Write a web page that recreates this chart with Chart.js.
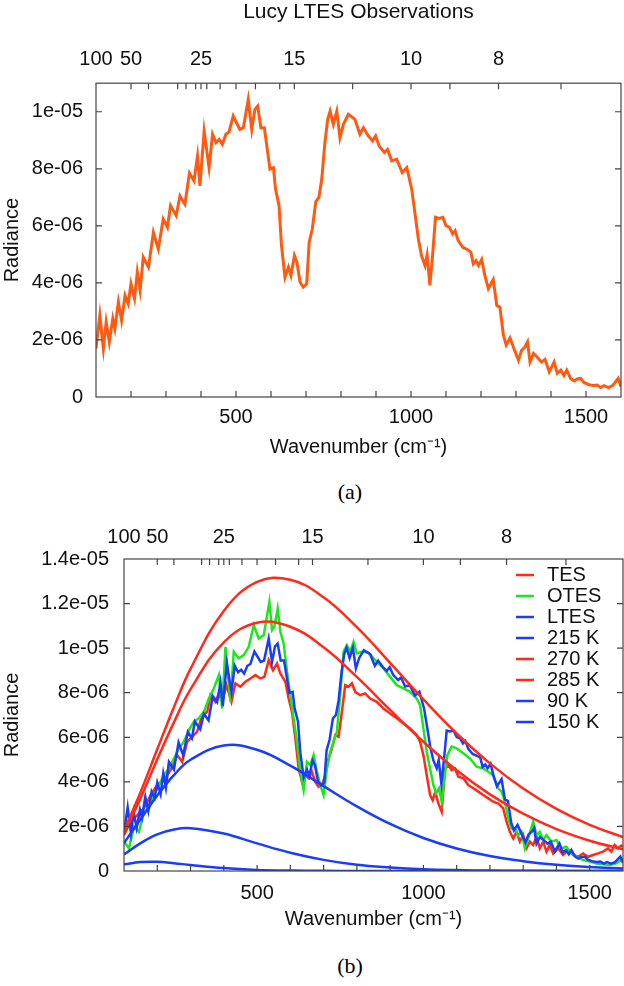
<!DOCTYPE html>
<html>
<head>
<meta charset="utf-8">
<script src="https://cdn.jsdelivr.net/npm/chart.js@4.4.1/dist/chart.umd.min.js"></script>
<style>
body { margin: 0; background: #fff; width: 624px; height: 986px; position: relative; overflow: hidden; }
canvas { position: absolute; left: 0; }
.caption { position: absolute; left: 300px; width: 100px; text-align: center;
  font-family: "Liberation Serif", "Times New Roman", serif; font-size: 22px; line-height: 26px; color: #000; }
</style>
</head>
<body>
<canvas id="chartA" width="624" height="470" style="top:0"></canvas>
<div class="caption" style="top:479px">(a)</div>
<canvas id="chartB" width="624" height="440" style="top:505px"></canvas>
<div class="caption" style="top:953px">(b)</div>
<script>
// Spectrum values are in units of 1e-6 radiance; wavenumbers in cm-1.

// LTES spectrum (panel a, also LTES in panel b)
var ltesWavenumber = [100,111,121,129,138,148,154,164,173,183,192,200,210,218,226,235,250,264,278,292,304,313,329,340,354,367,380,390,397,409,423,433,443,452,461,471,480,492,511,521,535,545,554,562,571,581,597,607,613,623,630,640,650,657,667,674,683,692,702,709,718,728,737,745,754,762,769,778,788,797,807,821,840,854,864,878,890,899,909,924,933,945,959,975,988,1002,1011,1021,1030,1040,1046,1054,1062,1070,1080,1091,1100,1110,1119,1126,1135,1148,1161,1171,1178,1186,1193,1202,1211,1221,1235,1245,1254,1264,1272,1283,1294,1307,1316,1326,1333,1340,1350,1364,1373,1383,1395,1409,1418,1428,1437,1445,1456,1466,1475,1485,1494,1507,1521,1532,1542,1552,1564,1576,1592,1600];
var ltesRadiance = [1.70,2.86,1.70,2.63,1.93,2.75,2.40,3.33,2.69,3.56,3.27,3.97,3.45,4.38,3.74,4.90,4.55,5.77,5.19,6.24,5.95,6.71,6.36,7.05,6.76,7.85,7.58,8.45,7.40,9.32,8.04,9.21,8.92,9.03,8.86,9.21,9.29,9.85,9.38,9.44,10.43,9.38,10.08,10.20,9.44,9.44,7.99,8.04,7.29,6.71,5.31,4.20,4.55,4.26,4.96,4.73,4.03,3.85,3.97,5.42,5.89,6.85,7.00,7.64,8.92,9.73,10.02,9.56,10.02,9.09,9.56,9.91,9.73,9.21,9.44,9.15,8.98,9.15,8.80,8.57,8.68,8.28,8.34,7.87,8.04,7.29,6.47,5.54,4.96,4.61,4.98,3.91,5.02,6.30,6.26,6.30,6.01,5.95,5.72,5.83,5.48,5.25,5.17,5.08,4.67,4.78,4.61,4.82,4.26,3.80,4.12,3.21,3.15,2.17,1.82,2.07,1.70,1.29,1.64,1.76,1.93,1.23,1.53,1.35,1.23,1.32,0.88,1.23,0.83,0.94,0.75,0.94,0.65,0.56,0.63,0.65,0.51,0.44,0.40,0.42,0.33,0.40,0.33,0.40,0.65,0.36];

// TES spectrum (panel b)
var tesWavenumber = [100,120,140,160,180,200,220,240,260,275,290,305,320,335,350,360,375,385,395,408,423,435,450,465,480,495,510,522,535,548,560,570,585,595,605,615,625,635,645,655,665,675,685,695,705,715,725,735,745,755,765,775,785,795,810,825,840,860,880,900,920,940,960,980,990,1000,1010,1020,1028,1036,1045,1055,1065,1075,1085,1095,1105,1120,1135,1150,1165,1180,1195,1210,1225,1240,1250,1260,1270,1280,1290,1300,1310,1320,1330,1340,1350,1360,1370,1380,1390,1405,1420,1435,1450,1465,1480,1495,1510,1525,1540,1555,1565,1575,1585,1595,1600];
var tesRadiance = [1.61,2.21,2.51,2.81,3.41,3.86,4.08,4.53,5.20,4.90,5.80,6.02,6.25,7.00,7.14,7.89,7.59,7.97,7.59,8.34,7.59,8.42,8.27,8.49,8.64,8.79,8.64,8.71,9.46,9.01,9.31,8.86,8.49,7.74,7.14,5.95,4.60,4.00,4.30,4.16,4.45,4.00,3.78,3.86,4.30,5.05,5.50,6.10,6.02,7.14,8.34,8.27,8.42,8.04,7.89,7.97,7.74,7.59,7.29,7.07,6.85,6.62,6.40,6.10,5.80,5.20,4.30,3.41,3.18,3.56,3.03,2.66,4.60,4.75,4.53,4.60,4.23,4.16,3.86,3.71,3.56,3.41,3.26,3.11,3.03,2.81,2.21,1.76,1.46,1.76,1.32,1.61,1.02,1.32,1.17,1.54,1.02,1.32,0.87,1.17,0.79,1.02,0.72,0.94,0.72,0.64,0.79,0.64,0.72,0.79,0.87,1.02,0.87,1.17,1.02,1.14,1.09];

// OTES spectrum (panel b)
var otesWavenumber = [100,115,130,145,160,175,190,205,220,235,250,265,280,295,310,325,340,355,370,385,395,405,420,430,445,460,475,490,505,520,537,545,552,562,570,580,590,600,610,620,630,640,650,660,670,680,690,700,710,720,730,740,750,760,770,780,790,800,815,835,860,880,900,920,940,960,980,990,1000,1010,1020,1030,1038,1047,1055,1062,1072,1085,1100,1120,1140,1160,1180,1195,1210,1225,1235,1245,1255,1265,1275,1285,1295,1305,1315,1330,1340,1350,1360,1370,1385,1400,1415,1430,1445,1460,1480,1500,1520,1540,1560,1580,1595,1600];
var otesRadiance = [1.32,1.02,1.99,1.76,2.66,2.81,3.41,3.86,4.30,4.60,5.05,5.50,5.80,6.32,6.70,6.85,7.14,7.74,8.19,8.79,7.29,10.06,7.59,9.84,9.54,9.69,10.06,11.03,10.43,10.58,12.08,10.81,10.96,11.78,10.73,10.21,8.94,7.89,6.85,5.80,4.45,3.63,4.90,4.75,5.20,4.45,3.86,3.41,4.60,5.35,5.80,6.25,7.89,9.84,10.13,9.84,10.28,9.76,9.84,9.80,9.39,9.09,8.71,8.34,8.19,8.04,7.74,7.44,6.40,5.35,4.60,3.86,3.48,3.71,3.11,4.01,5.20,5.58,5.50,5.28,5.05,4.68,4.60,4.45,4.30,3.71,3.56,3.11,2.36,1.91,1.91,1.61,1.76,1.02,1.46,2.21,1.61,1.76,1.39,1.61,1.32,1.39,1.02,1.09,0.79,0.64,0.49,0.42,0.34,0.30,0.27,0.34,0.49,0.57];

// Blackbody curves (panel b), read at these wavenumbers
var bbWavenumber = [100,150,200,250,300,400,500,600,700,800,900,1000,1100,1200,1300,1400,1500,1600];
var bb215 = [1.25,2.33,3.39,4.30,4.99,5.63,5.44,4.73,3.81,2.90,2.11,1.48,1.01,0.67,0.44,0.28,0.18,0.11];
var bb270 = [1.69,3.28,5.01,6.67,8.15,10.26,11.14,10.96,10.04,8.71,7.23,5.80,4.52,3.44,2.57,1.88,1.36,0.97];
var bb285 = [1.81,3.55,5.46,7.35,9.07,11.67,12.97,13.07,12.28,10.94,9.34,7.70,6.17,4.83,3.70,2.79,2.07,1.52];
var bb90 = [0.30,0.40,0.41,0.35,0.27,0.13,0.05,0.018,0.006,0.002,0.0005,0.0001,0,0,0,0,0,0];
var bb150 = [0.74,1.25,1.64,1.86,1.92,1.68,1.24,0.82,0.50,0.28,0.16,0.08,0.04,0.02,0.01,0.005,0.002,0.001];

// Axis ticks
var wavenumberTicks = [100,200,300,400,500,600,700,800,900,1000,1100,1200,1300,1400,1500,1600];
var wavenumberLabels = [500,1000,1500];
var wavelengthLabels = [100,50,25,15,10,8];
var wavelengthMinor = [40,30,28,26,24,22,20,18,16,12,9,7];
var radianceTicksA = [0,2,4,6,8,10];
var radianceTicksB = [0,2,4,6,8,10,12,14];

var RED = '#ff2a1a', GREEN = '#1ee61e', BLUE = '#1a3cff', ORANGE = '#ff5a12';
var font20 = { family: '"Liberation Sans", Arial, sans-serif', size: 20 };

function pairs(xs, ys) {
	return xs.map(function (x, i) { return { x: x, y: ys[i] }; });
}

// gnuplot style labels: 0, 2e-06, 1.2e-05
function expLabel(v) {
	if (v === 0) return '0';
	var s = Number((v * 1e-6).toPrecision(3)).toExponential();
	return s.replace(/e([+-])(\d)$/, function (m, sign, d) { return 'e' + sign + '0' + d; });
}

// Draws the frame and the inward tick marks
var frameTicks = {
	id: 'frameTicks',
	afterDatasetsDraw: function (chart) {
		var ctx = chart.ctx, a = chart.chartArea, len = 6;
		var sx = chart.scales.x, sx2 = chart.scales.x2, sy = chart.scales.y;
		ctx.save();
		ctx.strokeStyle = '#444';
		ctx.lineWidth = 1.2;
		ctx.beginPath();
		sx.ticks.forEach(function (t) {
			var p = sx.getPixelForValue(t.value);
			if (p < a.left + 2 || p > a.right - 2) return;
			ctx.moveTo(p, a.bottom); ctx.lineTo(p, a.bottom - len);
		});
		sx2.ticks.forEach(function (t) {
			var p = sx2.getPixelForValue(t.value);
			if (p < a.left + 2 || p > a.right - 2) return;
			ctx.moveTo(p, a.top); ctx.lineTo(p, a.top + len);
		});
		sy.ticks.forEach(function (t) {
			var p = sy.getPixelForValue(t.value);
			if (p < a.top + 2 || p > a.bottom - 2) return;
			ctx.moveTo(a.left, p); ctx.lineTo(a.left + len, p);
			ctx.moveTo(a.right, p); ctx.lineTo(a.right - len, p);
		});
		ctx.stroke();
		ctx.strokeRect(a.left, a.top, a.right - a.left, a.bottom - a.top);
		ctx.restore();
	}
};

// gnuplot style key inside the top right corner
var cornerKey = {
	id: 'cornerKey',
	afterDraw: function (chart, args, opts) {
		if (!opts.show) return;
		var ctx = chart.ctx, a = chart.chartArea;
		ctx.save();
		ctx.font = '20px "Liberation Sans", Arial, sans-serif';
		ctx.textBaseline = 'middle';
		ctx.textAlign = 'left';
		chart.data.datasets.forEach(function (ds, i) {
			var y = a.top + 16 + i * 21;
			ctx.strokeStyle = ds.borderColor;
			ctx.lineWidth = 2.5;
			ctx.beginPath();
			ctx.moveTo(a.right - 107, y); ctx.lineTo(a.right - 89, y);
			ctx.stroke();
			ctx.fillStyle = '#111';
			ctx.fillText(ds.label, a.right - 76, y);
		});
		ctx.restore();
	}
};

function buildChart(canvasId, datasets, g) {
	// keep the plot frame where the reference has it
	function fitHorizontal(height) {
		return function (s) {
			s.height = height;
			s.paddingRight = g.right;
			s.paddingLeft = 0;
		};
	}
	return new Chart(document.getElementById(canvasId), {
		type: 'line',
		data: { datasets: datasets },
		plugins: [frameTicks, cornerKey],
		options: {
			responsive: false,
			animation: false,
			events: [],
			layout: { padding: { left: 0, right: g.right, top: 0, bottom: 0 } },
			elements: { point: { radius: 0 }, line: { borderWidth: 2.5 } },
			plugins: {
				legend: { display: false },
				tooltip: { enabled: false },
				title: {
					display: !!g.title,
					text: g.title,
					fullSize: false,
					color: '#111',
					font: { family: font20.family, size: 21, weight: 'normal' },
					padding: { top: 0, bottom: 0 }
				},
				cornerKey: { show: g.key }
			},
			scales: {
				x: {
					type: 'linear', position: 'bottom', min: 100, max: 1600,
					grid: { display: false, drawTicks: false }, border: { display: false },
					afterBuildTicks: function (s) { s.ticks = wavenumberTicks.map(function (v) { return { value: v }; }); },
					afterFit: fitHorizontal(g.bottom),
					ticks: {
						autoSkip: false, maxRotation: 0, padding: g.xPad, color: '#111', font: font20,
						callback: function (v) { return wavenumberLabels.indexOf(v) >= 0 ? String(v) : ''; }
					},
					title: {
						display: true, text: 'Wavenumber (cm\u207B\u00B9)', color: '#111', font: font20,
						padding: { top: 0, bottom: g.titlePad }
					}
				},
				x2: {
					type: 'linear', position: 'top', min: 100, max: 1600,
					grid: { display: false, drawTicks: false }, border: { display: false },
					afterBuildTicks: function (s) {
						s.ticks = wavelengthLabels.concat(wavelengthMinor)
							.map(function (w) { return 10000 / w; })
							.sort(function (p, q) { return p - q; })
							.map(function (v) { return { value: v }; });
					},
					afterFit: fitHorizontal(g.top),
					ticks: {
						autoSkip: false, maxRotation: 0, padding: g.x2Pad, color: '#111', font: font20,
						callback: function (v) {
							var w = Math.round(10000 / v);
							return wavelengthLabels.indexOf(w) >= 0 ? String(w) : '';
						}
					}
				},
				y: {
					min: 0, max: g.yMax,
					grid: { display: false, drawTicks: false }, border: { display: false },
					afterBuildTicks: function (s) { s.ticks = g.yTicks.map(function (v) { return { value: v }; }); },
					afterFit: function (s) { s.width = g.left; },
					ticks: { padding: g.yPad, color: '#111', font: font20, callback: expLabel },
					title: { display: true, text: 'Radiance', color: '#111', font: font20, padding: { top: 0, bottom: 0 } }
				}
			}
		}
	});
}

function line(label, xs, ys, color, width, order, tension) {
	return {
		label: label, data: pairs(xs, ys), borderColor: color, backgroundColor: color,
		borderWidth: width, order: order, tension: tension, fill: false
	};
}

buildChart('chartA', [
	line('LTES', ltesWavenumber, ltesRadiance, ORANGE, 3, 1, 0)
], { title: 'Lucy LTES Observations', key: false, left: 96, right: 3, top: 58, bottom: 73,
	yMax: 11, yTicks: radianceTicksA, xPad: 8, x2Pad: 12, yPad: 13, titlePad: 11 });

buildChart('chartB', [
	line('TES', tesWavenumber, tesRadiance, RED, 2.5, 10, 0),
	line('OTES', otesWavenumber, otesRadiance, GREEN, 2.5, 9, 0),
	line('LTES', ltesWavenumber, ltesRadiance, BLUE, 2.5, 8, 0),
	line('215 K', bbWavenumber, bb215, BLUE, 2.5, 7, 0.4),
	line('270 K', bbWavenumber, bb270, RED, 2.5, 6, 0.4),
	line('285 K', bbWavenumber, bb285, RED, 2.5, 5, 0.4),
	line('90 K', bbWavenumber, bb90, BLUE, 2.5, 4, 0.4),
	line('150 K', bbWavenumber, bb150, BLUE, 2.5, 3, 0.4)
], { title: '', key: true, left: 124, right: 1, top: 54, bottom: 74,
	yMax: 14, yTicks: radianceTicksB, xPad: 10, x2Pad: 10, yPad: 15, titlePad: 14 });
</script>
</body>
</html>
